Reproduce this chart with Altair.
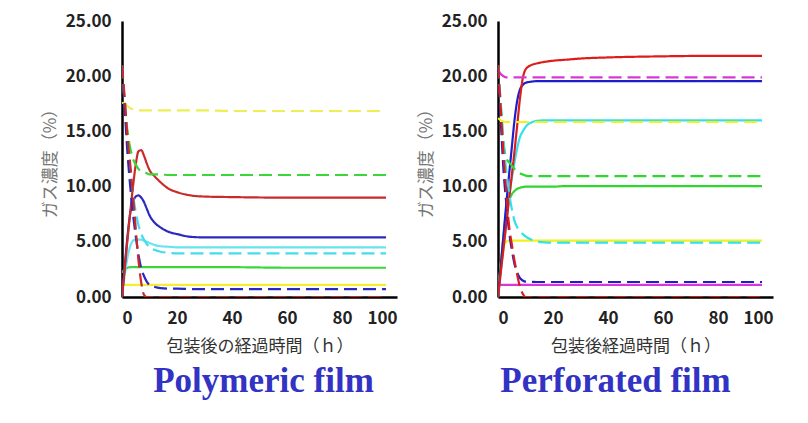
import altair as alt
import pandas as pd

hours = [0, 1, 2, 3, 4, 5, 6, 7, 8, 9, 10, 12, 14, 17, 20, 25, 30, 40, 60, 80, 96]

x_ticks = [0, 20, 40, 60, 80, 100]
y_ticks = [0, 5, 10, 15, 20, 25]

# ---- Polymeric film (left) ----
poly_red_solid = [0, 2.6, 5.2, 7.7, 10.0, 12.0, 13.2, 13.3, 12.8, 12.1, 11.5, 10.9, 10.4, 9.8, 9.5, 9.2, 9.1, 9.05, 9.0, 9.0, 9.0]
poly_blue_solid = [0, 2.8, 5.5, 7.6, 8.6, 9.1, 9.2, 9.0, 8.6, 8.0, 7.4, 6.7, 6.3, 5.9, 5.7, 5.45, 5.4, 5.4, 5.4, 5.4, 5.4]
poly_cyan_solid = [0, 2.0, 3.6, 4.6, 5.1, 5.2, 5.2, 5.2, 5.1, 5.0, 4.9, 4.7, 4.6, 4.55, 4.5, 4.5, 4.5, 4.5, 4.5, 4.5, 4.5]
poly_green_solid = [2.2, 2.5, 2.65, 2.7, 2.7, 2.7, 2.7, 2.7, 2.7, 2.7, 2.7, 2.7, 2.7, 2.7, 2.7, 2.7, 2.7, 2.7, 2.65, 2.65, 2.65]
poly_yellow_solid = [1.1, 1.1, 1.1, 1.1, 1.1, 1.1, 1.1, 1.1, 1.1, 1.1, 1.1, 1.1, 1.1, 1.1, 1.1, 1.1, 1.1, 1.1, 1.1, 1.1, 1.1]
poly_yellow_dash = [17.6, 17.5, 17.3, 17.1, 17.0, 16.95, 16.9, 16.9, 16.9, 16.9, 16.9, 16.9, 16.9, 16.9, 16.9, 16.9, 16.9, 16.85, 16.85, 16.85, 16.85]
poly_green_dash = [21.0, 17.5, 15.0, 13.5, 12.5, 12.0, 11.6, 11.4, 11.3, 11.2, 11.1, 11.1, 11.1, 11.05, 11.05, 11.05, 11.05, 11.05, 11.05, 11.05, 11.05]
poly_red_dash = [21.0, 18.0, 14.5, 12.0, 9.2, 6.2, 3.3, 1.3, 0.2, 0, 0, 0, 0, 0, 0, 0, 0, 0, 0, 0, 0]
poly_cyan_dash = [21.0, 17.5, 14.0, 11.5, 9.3, 7.7, 6.5, 5.7, 5.2, 4.8, 4.5, 4.25, 4.1, 4.0, 3.95, 3.95, 3.95, 3.95, 3.95, 3.95, 3.95]
poly_blue_dash = [21.0, 17.0, 13.0, 10.0, 7.5, 5.5, 3.8, 2.6, 1.9, 1.4, 1.1, 0.9, 0.8, 0.75, 0.75, 0.72, 0.72, 0.72, 0.72, 0.72, 0.72]

# ---- Perforated film (right) ----
perf_red_solid = [0, 2.2, 4.4, 6.6, 8.8, 11.0, 13.2, 15.6, 18.0, 19.8, 20.6, 21.0, 21.15, 21.3, 21.4, 21.5, 21.6, 21.7, 21.8, 21.85, 21.85]
perf_blue_solid = [0, 2.8, 5.6, 8.4, 11.0, 13.5, 16.0, 17.8, 18.8, 19.2, 19.4, 19.5, 19.55, 19.55, 19.55, 19.55, 19.55, 19.55, 19.55, 19.55, 19.55]
perf_cyan_solid = [0, 2.3, 4.5, 6.7, 8.9, 10.7, 12.2, 13.5, 14.5, 15.0, 15.4, 15.8, 15.95, 16.0, 16.0, 16.0, 16.0, 16.0, 16.0, 16.0, 16.0]
perf_green_solid = [0, 2.8, 5.5, 7.8, 8.7, 9.3, 9.6, 9.8, 9.9, 9.95, 10.0, 10.0, 10.0, 10.0, 10.0, 10.05, 10.05, 10.05, 10.05, 10.05, 10.05]
perf_yellow_solid = [0, 3.0, 4.6, 5.0, 5.1, 5.1, 5.1, 5.1, 5.1, 5.1, 5.1, 5.1, 5.1, 5.1, 5.1, 5.1, 5.1, 5.1, 5.1, 5.1, 5.1]
perf_magenta_solid = [1.1, 1.1, 1.1, 1.1, 1.1, 1.1, 1.1, 1.1, 1.1, 1.1, 1.1, 1.1, 1.1, 1.1, 1.1, 1.1, 1.1, 1.1, 1.1, 1.1, 1.1]
perf_magenta_dash = [20.6, 20.2, 20.0, 19.9, 19.9, 19.9, 19.9, 19.9, 19.9, 19.9, 19.9, 19.9, 19.9, 19.9, 19.9, 19.9, 19.9, 19.9, 19.9, 19.9, 19.9]
perf_yellow_dash = [16.2, 16.0, 15.9, 15.85, 15.85, 15.85, 15.85, 15.85, 15.85, 15.85, 15.85, 15.85, 15.85, 15.85, 15.85, 15.85, 15.85, 15.85, 15.85, 15.85, 15.85]
perf_green_dash = [21.0, 17.5, 14.0, 12.6, 12.2, 11.9, 11.6, 11.4, 11.2, 11.1, 11.0, 10.95, 10.95, 10.95, 10.95, 10.95, 10.95, 10.95, 10.95, 10.95, 10.95]
perf_cyan_dash = [21.0, 17.5, 14.0, 11.5, 9.5, 8.0, 6.9, 6.3, 5.9, 5.7, 5.5, 5.2, 5.05, 4.95, 4.92, 4.92, 4.92, 4.92, 4.92, 4.92, 4.92]
perf_blue_dash = [21.0, 16.0, 11.5, 8.5, 6.0, 4.3, 3.0, 2.2, 1.7, 1.5, 1.4, 1.38, 1.36, 1.36, 1.36, 1.36, 1.36, 1.36, 1.36, 1.36, 1.36]
perf_red_dash = [21.0, 17.0, 13.0, 9.5, 6.5, 4.8, 3.3, 2.0, 0.9, 0.3, 0, 0, 0, 0, 0, 0, 0, 0, 0, 0, 0]

poly_series = [
    ("yellow solid", "#f0f030", "solid", poly_yellow_solid),
    ("green solid", "#3ad63a", "solid", poly_green_solid),
    ("cyan solid", "#66e4f0", "solid", poly_cyan_solid),
    ("blue solid", "#2a2ac0", "solid", poly_blue_solid),
    ("red solid", "#c92a2a", "solid", poly_red_solid),
    ("yellow dash", "#eeee55", "dash", poly_yellow_dash),
    ("green dash", "#3ad63a", "dash", poly_green_dash),
    ("cyan dash", "#44dcee", "dash", poly_cyan_dash),
    ("blue dash", "#2a2ac0", "dash", poly_blue_dash),
    ("red dash", "#c92a2a", "dash", poly_red_dash),
]

perf_series = [
    ("magenta solid", "#d838d8", "solid", perf_magenta_solid),
    ("yellow solid", "#f2f21a", "solid", perf_yellow_solid),
    ("green solid", "#2ed62e", "solid", perf_green_solid),
    ("cyan solid", "#33e0f0", "solid", perf_cyan_solid),
    ("blue solid", "#1f1fc8", "solid", perf_blue_solid),
    ("red solid", "#dd1c1c", "solid", perf_red_solid),
    ("magenta dash", "#d838d8", "dash", perf_magenta_dash),
    ("yellow dash", "#f2f21a", "dash", perf_yellow_dash),
    ("green dash", "#2ed62e", "dash", perf_green_dash),
    ("cyan dash", "#33e0f0", "dash", perf_cyan_dash),
    ("blue dash", "#1f1fc8", "dash", perf_blue_dash),
    ("red dash", "#dd1c1c", "dash", perf_red_dash),
]


def make_panel(series, x_title, film_title, title_dx):
    rows = []
    for order, (name, color, dash, vals) in enumerate(series):
        for h, v in zip(hours, vals):
            rows.append({"h": h, "v": v, "s": f"{order:02d} {name}", "c": color, "d": dash})
    df = pd.DataFrame(rows)
    return alt.Chart(df).mark_line(interpolate="monotone", strokeWidth=2.2, clip=True).encode(
        x=alt.X("h:Q", scale=alt.Scale(domain=[0, 100], nice=False),
                axis=alt.Axis(values=x_ticks, title=x_title, format="d")),
        y=alt.Y("v:Q", scale=alt.Scale(domain=[0, 25], nice=False),
                axis=alt.Axis(values=y_ticks, title="ガス濃度（%）", format=".2f")),
        color=alt.Color("c:N", scale=None),
        strokeDash=alt.StrokeDash("d:N", scale=alt.Scale(domain=["solid", "dash"], range=[[1, 0], [13, 6]]), legend=None),
        detail="s:N",
    ).properties(
        width=275, height=276,
        title=alt.TitleParams(film_title, orient="bottom", font="Liberation Serif", fontSize=35,
                              fontWeight="bold", color="#3232c4", offset=10, dx=title_dx),
    )


left = make_panel(poly_series, "包装後の経過時間（ｈ）", "Polymeric film", 4)
right = make_panel(perf_series, "包装後経過時間（ｈ）", "Perforated film", -20)

chart = alt.hconcat(left, right, spacing=20).properties(
    padding={"left": 33, "top": 4, "right": 5, "bottom": 5},
    background="white",
).configure_view(stroke=None).configure_axis(
    domainColor="black", domainWidth=2.5, ticks=False, grid=False,
    labelFont="Noto Sans CJK JP", labelFontSize=17, labelFontWeight="bold", labelColor="#222",
    titleFont="Noto Sans CJK JP", titleFontSize=17, titleFontWeight="normal",
).configure_axisX(
    labelPadding=13, titleColor="#333", titlePadding=12,
).configure_axisY(
    labelPadding=11, titleColor="#777", titlePadding=6,
)

chart.save("out.html", embed_options={"renderer": "svg", "actions": False})
